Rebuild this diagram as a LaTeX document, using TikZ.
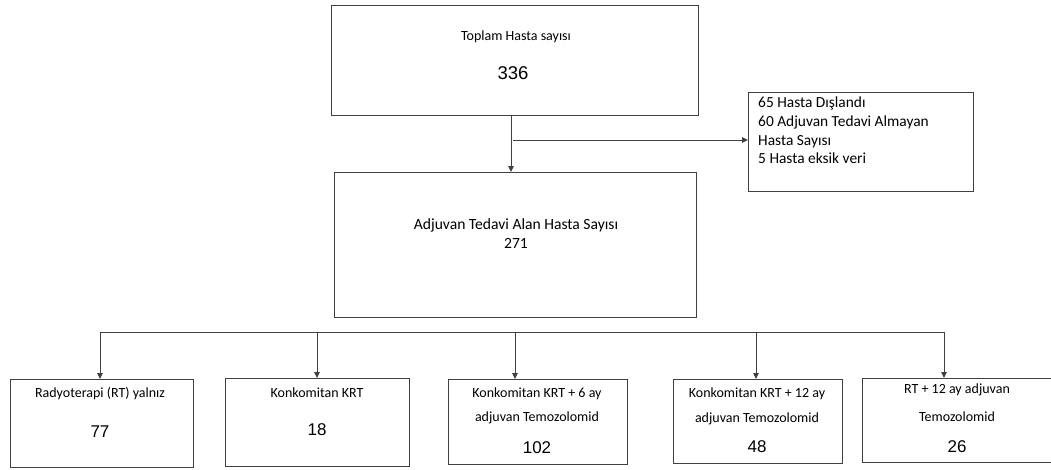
\documentclass[tikz,border=0pt]{standalone}
\usepackage{fontspec}
\setmainfont{Carlito}
\newfontfamily\arialf{Liberation Sans}
\usetikzlibrary{arrows.meta,calc}
\begin{document}
\begin{tikzpicture}[x=1pt,y=-1pt,
  box/.style={draw=black!75, line width=0.9pt, rectangle, inner sep=0pt, anchor=north west},
  lbl/.style={inner sep=0pt, text height=0.68em, text depth=0.18em, font=\fontsize{14}{16}\selectfont},
  num/.style={inner sep=0pt, text height=0.72em, text depth=0em, font=\arialf\fontsize{17}{19}\selectfont},
  conn/.style={draw=black!75, line width=0.9pt},
  arr/.style={conn, -{Triangle[length=6pt,width=5.5pt]}}]
\clip (0,0) rectangle (1051,469);
\useasboundingbox (0,0) rectangle (1051,469);
\fill[white] (0,0) rectangle (1051,469);
% boxes
\node[box, minimum width=367pt, minimum height=110pt] (top) at (331,5) {};
\node[box, minimum width=225pt, minimum height=99pt] (rb) at (748,92) {};
\node[box, minimum width=362pt, minimum height=145pt] (mid) at (334,172) {};
\node[box, minimum width=183pt, minimum height=88pt] (b1) at (10,379) {};
\node[box, minimum width=184pt, minimum height=88pt] (b2) at (225,378) {};
\node[box, minimum width=179pt, minimum height=85pt] (b3) at (448,379) {};
\node[box, minimum width=169pt, minimum height=84pt] (b4) at (673,379) {};
\node[box, minimum width=200pt, minimum height=84pt] (b5) at (862,378) {};
% texts
\node[lbl] (t1) at (516,38) {Toplam Hasta sayısı};
\node[num, font=\arialf\fontsize{18.5}{20}\selectfont] (t2) at (513,76) {336};
\node[lbl, anchor=west, font=\fontsize{15.4}{17}\selectfont] (r1) at (758,105) {65 Hasta Dışlandı};
\node[lbl, anchor=west, font=\fontsize{15.4}{17}\selectfont] (r2) at (758,124) {60 Adjuvan Tedavi Almayan};
\node[lbl, anchor=west, font=\fontsize{15.4}{17}\selectfont] (r3) at (758,142.5) {Hasta Sayısı};
\node[lbl, anchor=west, font=\fontsize{15.4}{17}\selectfont] (r4) at (758,161) {5 Hasta eksik veri};
\node[lbl, font=\fontsize{15.6}{17}\selectfont] (m1) at (516,227) {Adjuvan Tedavi Alan Hasta Sayısı};
\node[lbl, font=\fontsize{15.6}{17}\selectfont] (m2) at (516,246) {271};
\node[lbl] (l1) at (100,395) {Radyoterapi (RT) yalnız};
\node[num] (n1) at (100,434) {77};
\node[lbl] (l2) at (317,395) {Konkomitan KRT};
\node[num] (n2) at (317,432) {18};
\node[lbl] (l3a) at (537,395) {Konkomitan KRT + 6 ay};
\node[lbl] (l3b) at (537,419) {adjuvan Temozolomid};
\node[num] (n3) at (537,450) {102};
\node[lbl] (l4a) at (757,395) {Konkomitan KRT + 12 ay};
\node[lbl] (l4b) at (757,420) {adjuvan Temozolomid};
\node[num] (n4) at (757,449) {48};
\node[lbl] (l5a) at (957,391) {RT + 12 ay adjuvan};
\node[lbl] (l5b) at (957,419) {Temozolomid};
\node[num] (n5) at (957,449) {26};
% connectors
\coordinate (tdown) at (511,115);
\draw[arr] (tdown) -- (tdown |- mid.north);
\coordinate (br) at (513,140);
\draw[arr] (br) -- (br -| rb.west);
\coordinate (busL) at (100,332);
\coordinate (busR) at (944,332);
\draw[conn] (busL) -- (busR);
\coordinate (c1) at (100,332);
\coordinate (c2) at (317,332);
\coordinate (c3) at (515,332);
\coordinate (c4) at (756,332);
\coordinate (c5) at (944,332);
\draw[arr] (c1) -- (c1 |- b1.north);
\draw[arr] (c2) -- (c2 |- b2.north);
\draw[arr] (c3) -- (c3 |- b3.north);
\draw[arr] (c4) -- (c4 |- b4.north);
\draw[arr] (c5) -- (c5 |- b5.north);
\end{tikzpicture}
\end{document}
